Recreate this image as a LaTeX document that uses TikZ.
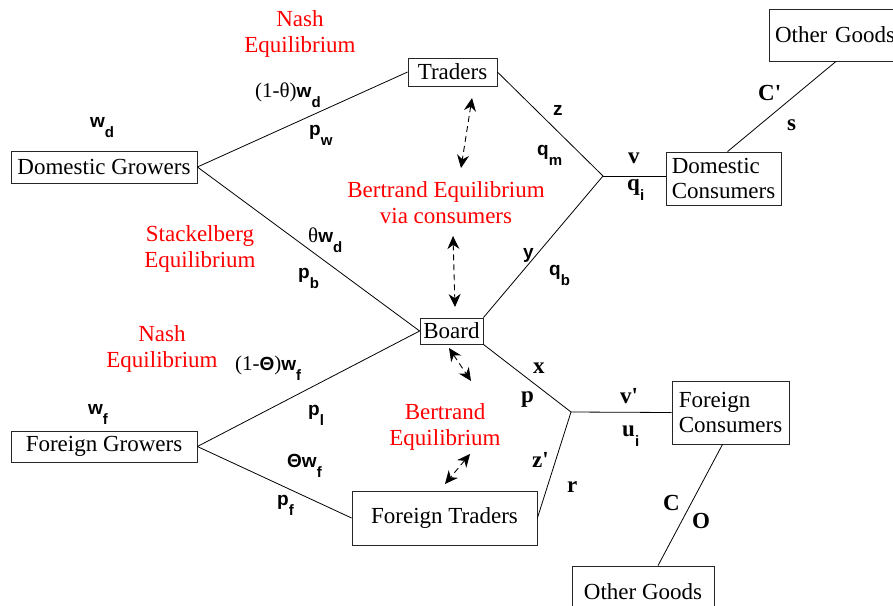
\documentclass[tikz,border=0pt]{standalone}
\usepackage{fontspec}
\setmainfont{LiberationSerif}[Extension=.ttf, UprightFont=*-Regular, BoldFont=*-Bold, ItalicFont=*-Italic, BoldItalicFont=*-BoldItalic]
\newfontfamily\lblsans{Liberation Sans}
\usetikzlibrary{arrows.meta}
\newcommand{\lsub}[2]{#1\raisebox{-10pt}{\lblsans\bfseries\fontsize{15}{15}\selectfont #2}}

\begin{document}
\begin{tikzpicture}[x=1pt,y=-1pt,
    box/.style={draw=black!85, line width=0.8pt, inner sep=0pt, font=\fontsize{23}{25}\selectfont},
    eqlbl/.style={red, align=center, inner sep=0pt, font=\fontsize{23}{26}\selectfont},
    slbl/.style={anchor=base west, inner sep=0pt, font=\lblsans\bfseries\fontsize{19}{19}\selectfont},
    rlbl/.style={anchor=base west, inner sep=0pt, font=\bfseries\fontsize{23}{23}\selectfont},
    link/.style={line width=0.8pt},
    bert/.style={line width=0.9pt, dash pattern=on 6pt off 4pt,
        {Stealth[length=13pt,width=12pt]}-{Stealth[length=13pt,width=12pt]}}]
    \useasboundingbox (0,0) rectangle (893,605);
    \clip (0,0) rectangle (893,605);

    \node[box, minimum width=186pt, minimum height=32pt] (dg) at (104,167) {Domestic Growers};
    \node[box, minimum width=186pt, minimum height=31pt] (fg) at (104,446.5) {Foreign Growers};
    \node[box, minimum width=89pt, minimum height=28pt] (tr) at (452.5,72) {Traders};
    \node[box, minimum width=63pt, minimum height=26pt] (bd) at (451.5,331) {Board};
    \node[box, minimum width=185pt, minimum height=54pt] (ft) at (444.5,518) {Foreign Traders};
    \node[box, minimum width=115pt, minimum height=53pt, align=left] (dc) at (723.5,178.5) {Domestic\\Consumers};
    \node[box, minimum width=117pt, minimum height=63pt, align=left] (fc) at (730.5,412.5) {Foreign\\Consumers};
    \node[box, minimum width=134pt, minimum height=52pt, text width=122pt] (og1) at (836,35) {Other Goods};
    \node[box, minimum width=142pt, minimum height=52pt] (og2) at (643,592) {Other Goods};

    \coordinate (j1) at (603,176);
    \coordinate (j2) at (571,412);

    \draw[link] (dg.east) -- (tr.west);
    \draw[link] (dg.east) -- (bd.west);
    \draw[link] (fg.east) -- (bd.west);
    \draw[link] (fg.east) -- (ft.west);
    \draw[link] (tr.east) -- (j1) -- (bd.north east);
    \draw[link] (j1) -- (j1 -| dc.west);
    \draw[link] (bd.south east) -- (j2) -- (ft.east);
    \draw[link] (j2) -- (fc.west);
    \draw[link] ([xshift=4pt]dc.north) -- (og1.south);
    \draw[link] ([xshift=-8pt]fc.south) -- ([xshift=15pt]og2.north);

    \coordinate (a1) at (472,98);  \coordinate (b1) at (461,168);
    \coordinate (a2) at (453,236); \coordinate (b2) at (455,307);
    \coordinate (a3) at (449,348); \coordinate (b3) at (471,381);
    \coordinate (a4) at (470,454); \coordinate (b4) at (445,484);
    \foreach \i in {1,...,4}
    \draw[bert] (a\i) -- (b\i);

    \node[eqlbl] (nash1) at (300,34) {Nash\\Equilibrium};
    \node[eqlbl] (bert1) at (446,203) {Bertrand Equilibrium\\via consumers};
    \node[eqlbl] (stack) at (200,249) {Stackelberg\\Equilibrium};
    \node[eqlbl] (nash2) at (162,349) {Nash\\Equilibrium};
    \node[eqlbl] (bert2) at (445,427) {Bertrand\\Equilibrium};

    \node[slbl] (wd) at (90,127) {\lsub{w}{d}};
    \node[slbl] (wdt) at (255,97) {{\rmfamily\mdseries\fontsize{21}{21}\selectfont(1-θ)}\lsub{w}{d}};
    \node[slbl] (pw) at (309,135) {\lsub{p}{w}};
    \node[slbl] (z) at (553,115) {z};
    \node[slbl] (qm) at (537,155) {\lsub{q}{m}};
    \node[rlbl] (v) at (628,163) {v};
    \node[rlbl] (qi) at (627,190) {\lsub{q}{i}};
    \node[rlbl] (cp) at (758,100) {C\textquotesingle};
    \node[rlbl] (s) at (787,130) {s};
    \node[slbl] (twd) at (308,242) {{\rmfamily\mdseries\fontsize{21}{21}\selectfont θ}\lsub{w}{d}};
    \node[slbl] (pb) at (298,278) {\lsub{p}{b}};
    \node[slbl] (y) at (523,258) {y};
    \node[slbl] (qb) at (549,275) {\lsub{q}{b}};
    \node[rlbl] (x) at (533,373) {x};
    \node[rlbl] (p) at (521,402) {p};
    \node[slbl] (wf) at (88,414) {\lsub{w}{f}};
    \node[slbl] (wft) at (235,370) {{\rmfamily\mdseries\fontsize{21}{21}\selectfont(1-}Θ{\rmfamily\mdseries\fontsize{21}{21}\selectfont)}\lsub{w}{f}};
    \node[slbl] (pl) at (308,415) {\lsub{p}{l}};
    \node[slbl] (twf) at (287,467) {Θ\lsub{w}{f}};
    \node[slbl] (pf) at (277,505) {\lsub{p}{f}};
    \node[rlbl] (vp) at (620,403) {v\textquotesingle};
    \node[rlbl] (ui) at (622,436) {\lsub{u}{i}};
    \node[rlbl] (zp) at (532,467) {z\textquotesingle};
    \node[rlbl] (r) at (567,492) {r};
    \node[rlbl] (c) at (663,510) {C};
    \node[rlbl] (o) at (692,528) {O};
\end{tikzpicture}
\end{document}
